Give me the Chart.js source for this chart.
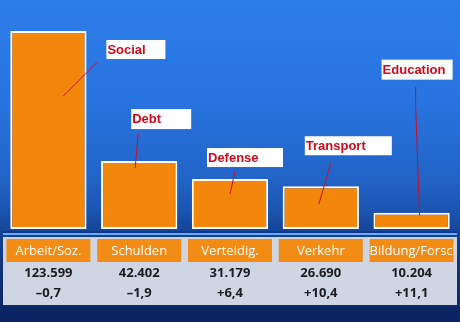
<!DOCTYPE html>
<html>
<head>
<meta charset="utf-8">
<script src="https://cdn.jsdelivr.net/npm/chart.js@4.4.1/dist/chart.umd.min.js"></script>
<style>
    html, body { margin: 0; padding: 0; }
    body {
        width: 460px; height: 322px; overflow: hidden;
        background: linear-gradient(to bottom, #2c7de8 0%, #2874e0 30%, #2264c8 55%, #1b55b2 65%, #143f90 74%, #0e2e70 88%, #0b2360 100%);
    }
    #wrap { position: relative; width: 460px; height: 322px; }
</style>
</head>
<body>
<div id="wrap"><canvas id="budgetChart" width="460" height="322"></canvas></div>
<script>
// Ressorts (German table headers) and English annotation labels
const categories = ['Arbeit/Soz.', 'Schulden', 'Verteidig.', 'Verkehr', 'Bildung/Forschung'];
const labelsEn = ['Social', 'Debt', 'Defense', 'Transport', 'Education'];
// Budget in Mio. Euro
const budgetValues = [123.599, 42.402, 31.179, 26.690, 10.204];
const budgetText = ['123.599', '42.402', '31.179', '26.690', '10.204'];
// Change in percent
const changeText = ['\u20130,7', '\u20131,9', '+6,4', '+10,4', '+11,1'];

// Callout boxes, relative to bar center (x) and bar top (y)
// box: [dx, dy, w, h], line: [[dx, dy], ...]
const callouts = [
    { box: [58, 9, 59, 19], line: [[49, 31], [15, 65]] },
    { box: [-8, -52, 60, 20], line: [[-1, -27], [-4, 7]] },
    { box: [-23, -31, 76, 19], line: [[5, -8], [0, 15]] },
    { box: [-16, -50, 87, 19], line: [[10, -23], [-2, 18]] },
    { box: [-30, -153, 71, 20], line: [[4, -126], [4, -108], [8, 3]] }
];

const ORANGE = '#f2870c';

const overlayPlugin = {
    id: 'overlay',
    afterDatasetsDraw(chart) {
        const ctx = chart.ctx;
        const meta = chart.getDatasetMeta(0);
        const xs = chart.scales.x;

        // separator line under bars
        ctx.save();
        ctx.fillStyle = '#0d3a8c';
        ctx.fillRect(3, 231, 454, 2);
        ctx.fillStyle = '#6aaaf2';
        ctx.fillRect(3, 233, 454, 2);

        // table background
        ctx.fillStyle = '#cfd5e2';
        ctx.fillRect(3, 237, 454, 68);

        meta.data.forEach((bar, i) => {
            const cx = xs.getPixelForValue(i);
            // header cell
            ctx.fillStyle = '#f28c14';
            ctx.fillRect(cx - 42, 239, 84, 23);
            ctx.save();
            ctx.beginPath();
            ctx.rect(cx - 42, 239, 84, 23);
            ctx.clip();
            ctx.fillStyle = '#ffffff';
            ctx.font = '13px "Open Sans"';
            ctx.textBaseline = 'middle';
            const w = ctx.measureText(categories[i]).width;
            if (w > 82) {
                ctx.textAlign = 'left';
                ctx.fillText(categories[i], cx - 42, 251);
            } else {
                ctx.textAlign = 'center';
                ctx.fillText(categories[i], cx, 251);
            }
            ctx.restore();

            ctx.fillStyle = '#1b1b22';
            ctx.font = 'bold 13px "Open Sans"';
            ctx.textAlign = 'center';
            ctx.textBaseline = 'middle';
            ctx.fillText(budgetText[i], cx, 273);
            ctx.fillText(changeText[i], cx, 293);

            // callouts
            const c = callouts[i];
            const top = bar.y;
            ctx.strokeStyle = '#c8102a';
            ctx.lineWidth = 1;
            ctx.beginPath();
            c.line.forEach((p, k) => {
                if (k === 0) ctx.moveTo(cx + p[0], top + p[1]);
                else ctx.lineTo(cx + p[0], top + p[1]);
            });
            ctx.stroke();

            const bx = cx + c.box[0], by = top + c.box[1];
            ctx.fillStyle = '#ffffff';
            ctx.fillRect(bx, by, c.box[2], c.box[3]);
            ctx.fillStyle = '#cc0a1a';
            ctx.font = 'bold 13px "Liberation Sans"';
            ctx.textAlign = 'left';
            ctx.textBaseline = 'middle';
            ctx.fillText(labelsEn[i], bx + 1, by + c.box[3] / 2 + 0.5);
        });
        ctx.restore();
    }
};

new Chart(document.getElementById('budgetChart'), {
    type: 'bar',
    data: {
        labels: categories,
        datasets: [{
            data: budgetValues,
            backgroundColor: ORANGE,
            borderColor: '#ffffff',
            borderWidth: 2,
            borderSkipped: false,
            barPercentage: 0.84,
            categoryPercentage: 1
        }]
    },
    options: {
        responsive: false,
        animation: false,
        events: [],
        layout: { padding: { left: 3, right: 3, top: 31, bottom: 93 } },
        plugins: { legend: { display: false }, tooltip: { enabled: false } },
        scales: {
            x: { display: false },
            y: { display: false, min: 0, max: 123.599 }
        }
    },
    plugins: [overlayPlugin]
});
</script>
</body>
</html>
